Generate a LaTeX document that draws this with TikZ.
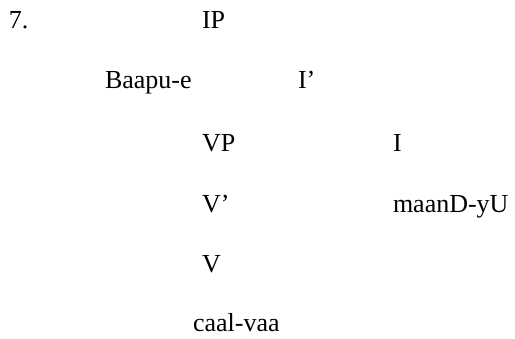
\documentclass[tikz,border=0pt]{standalone}
\usepackage{fontspec}
\setmainfont{Liberation Serif}
\begin{document}
\begin{tikzpicture}[x=1pt,y=-1pt,
  lbl/.style={anchor=base west,inner sep=0pt,outer sep=0pt,font=\fontsize{26}{31}\selectfont}]
\useasboundingbox (0,0) rectangle (515,339);
\node[lbl] (num) at (9,29) {7.};
\node[lbl] (ip) at (202,29) {IP};
\node[lbl] (subj) at (105,89) {Baapu-e};
\node[lbl] (ibar) at (298,89) {I’};
\node[lbl] (vp) at (202,152) {VP};
\node[lbl] (i) at (393,152) {I};
\node[lbl] (vbar) at (202,213) {V’};
\node[lbl] (infl) at (393,213) {maanD-yU};
\node[lbl] (v) at (202,273) {V};
\node[lbl] (verb) at (193,332) {caal-vaa};
\end{tikzpicture}
\end{document}
